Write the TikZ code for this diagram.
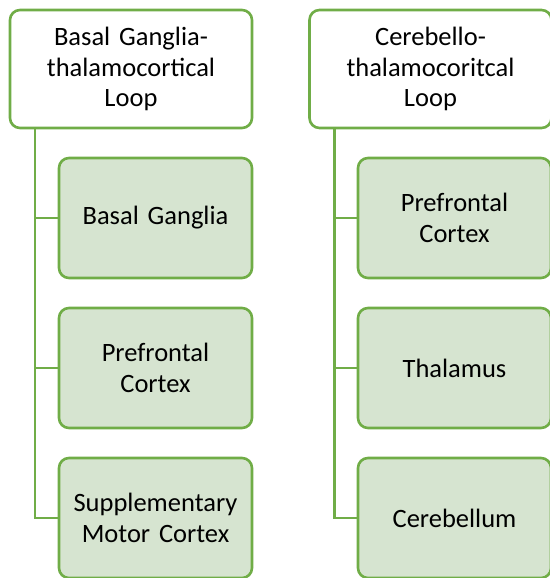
\documentclass[tikz,border=0pt]{standalone}
\usepackage{fontspec}
\setmainfont{Carlito}[WordSpace=0.6]
\usetikzlibrary{positioning}
\definecolor{loopgreen}{RGB}{112,173,71}
\definecolor{leaffill}{RGB}{214,228,208}
\tikzset{
  box/.style={draw=loopgreen, line width=2.6pt, rounded corners=10pt, align=center,
    font=\fontsize{26.5}{30.5}\selectfont, inner sep=0pt, outer sep=0pt}, % common look of all boxes
  hdr/.style={box, fill=white, minimum width=242pt, minimum height=118pt, text width=235pt},
  leaf/.style={box, fill=leaffill, minimum width=193pt, minimum height=120pt, text width=188pt},
  link/.style={draw=loopgreen, line width=2.4pt},
  node distance=30pt,
}
\begin{document}
\begin{tikzpicture}
  \useasboundingbox (0,0) rectangle (549pt,-578pt);

  % basal ganglia side
  \node[hdr] (bgloop) at (131pt,-69pt) {Basal Ganglia-\\thalamocortical\\Loop};
  \node[leaf] (bg) at (155.5pt,-218pt) {Basal Ganglia};
  \node[leaf, below=of bg] (pfcA) {Prefrontal\\Cortex};
  \node[leaf, below=of pfcA] (sma) {Supplementary\\Motor Cortex};

  % cerebellar side
  \node[hdr] (cbloop) at (430.5pt,-69pt) {Cerebello-\\thalamocoritcal\\Loop};
  \node[leaf] (pfcB) at (454.5pt,-218pt) {Prefrontal\\Cortex};
  \node[leaf, below=of pfcB] (thal) {Thalamus};
  \node[leaf, below=of thal] (cb) {Cerebellum};

  % spines to the leaves
  \foreach \c in {bg,pfcA,sma}
    \draw[link] ([xshift=25pt]bgloop.south west) |- (\c.west);
  \foreach \c in {pfcB,thal,cb}
    \draw[link] ([xshift=25pt]cbloop.south west) |- (\c.west);
\end{tikzpicture}
\end{document}
